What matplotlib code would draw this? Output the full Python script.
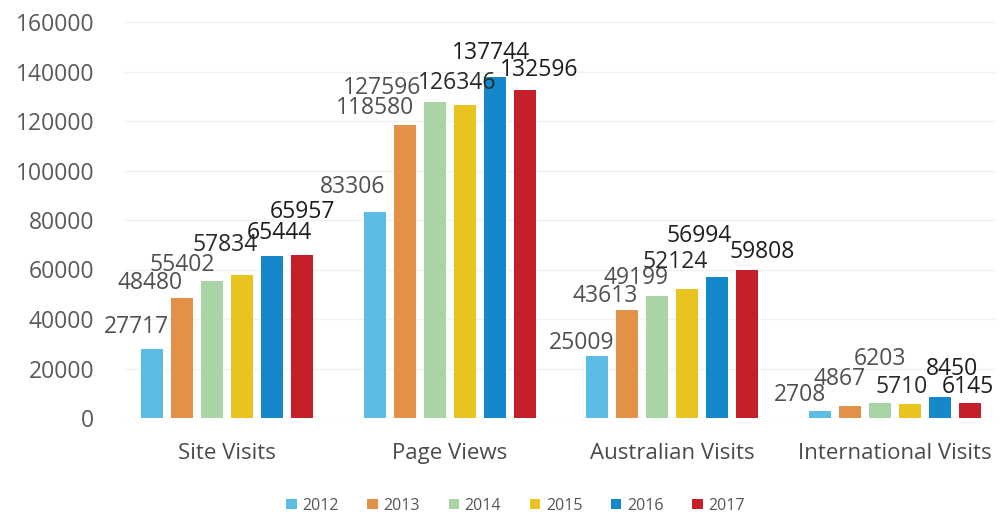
import matplotlib
matplotlib.use("Agg")
import matplotlib.pyplot as plt
import numpy as np

categories = ["Site Visits", "Page Views", "Australian Visits", "International Visits"]
years = ["2012", "2013", "2014", "2015", "2016", "2017"]
v2012 = [27717, 83306, 25009, 2708]
v2013 = [48480, 118580, 43613, 4867]
v2014 = [55402, 127596, 49199, 6203]
v2015 = [57834, 126346, 52124, 5710]
v2016 = [65444, 137744, 56994, 8450]
v2017 = [65957, 132596, 59808, 6145]
series = [v2012, v2013, v2014, v2015, v2016, v2017]
yticks = [0, 20000, 40000, 60000, 80000, 100000, 120000, 140000, 160000]

colors = ["#5BBCE6", "#E39149", "#A8D4A6", "#E9C31F", "#1587CB", "#C51F2A"]
label_colors = ["#505050", "#505050", "#505050", "#2a2a2a", "#1e1e1e", "#1e1e1e"]

# label offsets in pixels (dx, dy from bar top center), per series per category
offsets = [
    [(-16, 22), (-22, 25), (-16, 13), (-20, 16)],
    [(-32, 15), (-30, 17), (-22, 14), (-10, 27)],
    [(-30, 16), (-53, 14), (-21, 18), (0, 44)],
    [(-17, 30), (-7, 22), (-12, 27), (-8, 17)],
    [(7, 23), (-4, 24), (-18, 41), (12, 28)],
    [(0, 43), (15, 20), (15, 18), (-2, 16)],
]

font = "Open Sans"
fig = plt.figure(figsize=(10.01, 5.17), dpi=100)
ax = fig.add_axes([125/1001, (517-418)/517, (995-125)/1001, (418-22)/517])

x = np.arange(len(categories))
step = 0.1347
width = 0.099
for i, vals in enumerate(series):
    pos = x + (i - 2.5) * step
    bars = ax.bar(pos, vals, width=width, color=colors[i], label=years[i], zorder=3)
    for j, (b, v) in enumerate(zip(bars, vals)):
        dx, dy = offsets[i][j]
        ax.annotate(str(v), (b.get_x() + b.get_width()/2, v),
                    xytext=(dx, dy), textcoords="offset pixels",
                    ha="center", va="center", fontsize=16.5, family=font,
                    color=label_colors[i], zorder=5)

ax.set_xlim(-0.458, 3.449)
ax.set_ylim(0, 160000)
ax.set_yticks(yticks)
ax.set_yticklabels([str(t) for t in yticks], family=font, fontsize=16.5, color="#5a5a5a")
ax.set_xticks(x)
ax.set_xticklabels(categories, family=font, fontsize=16, color="#4a4a4a")
ax.tick_params(axis="y", length=0, pad=22)
ax.tick_params(axis="x", length=0, pad=18)
for s in ax.spines.values():
    s.set_visible(False)
ax.grid(axis="y", color="#f2f2f2", linewidth=1, zorder=0)
ax.set_axisbelow(True)

leg = fig.legend(loc="center", bbox_to_anchor=(0.515, 0.022), ncol=6, frameon=False,
                 prop={"family": font, "size": 11.5}, handlelength=0.65, handleheight=0.65,
                 handletextpad=0.35, columnspacing=1.8)
for t in leg.get_texts():
    t.set_color("#555555")

fig.savefig("out.png", dpi=100, facecolor="white")
